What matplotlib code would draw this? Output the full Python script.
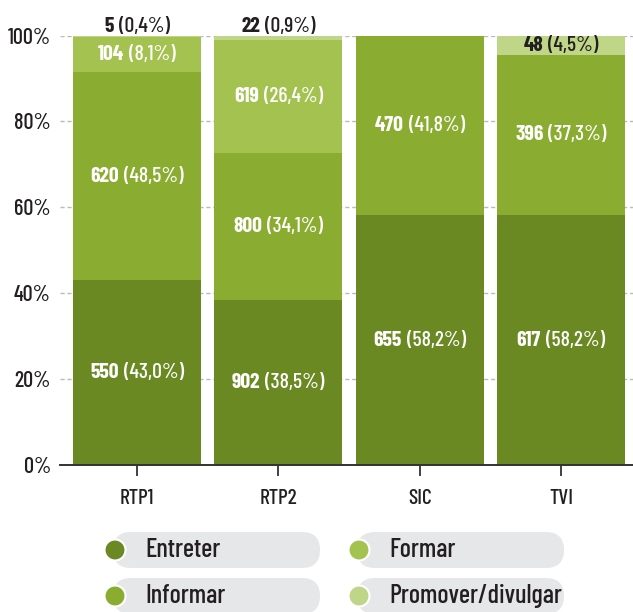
import matplotlib
matplotlib.use('Agg')
import matplotlib.pyplot as plt
from matplotlib.patches import FancyBboxPatch, Circle
from matplotlib.transforms import offset_copy

plt.rcParams['font.family'] = ['Barlow Condensed', 'DejaVu Sans']
plt.rcParams['font.weight'] = 'medium'

### data
channels = ['RTP1', 'RTP2', 'SIC', 'TVI']
categories = ['Entreter', 'Informar', 'Formar', 'Promover/divulgar']

n_entreter = [550, 902, 655, 617]
n_informar = [620, 800, 470, 396]
n_formar = [104, 619, 0, 0]
n_promover = [5, 22, 0, 48]

pct_entreter = [43.0, 38.5, 58.2, 58.2]
pct_informar = [48.5, 34.1, 41.8, 37.3]
pct_formar = [8.1, 26.4, 0.0, 0.0]
pct_promover = [0.4, 0.9, 0.0, 4.5]

counts = [n_entreter, n_informar, n_formar, n_promover]
pcts = [pct_entreter, pct_informar, pct_formar, pct_promover]

colors = ['#6b8923', '#8aac30', '#a4c24f', '#bfd587']
label_colors = ['white', 'white', 'white', '#231f20']
text_dark = '#231f20'

W, H = 633, 612
fig = plt.figure(figsize=(W / 100, H / 100), dpi=100)
ax = fig.add_axes([60 / W, (H - 465) / H, (W - 60) / W, (465 - 35.5) / H])

x = range(len(channels))
width = 0.906
bottoms = [0.0] * len(channels)
segments = []
for k in range(len(categories)):
    ax.bar(x, pcts[k], width, bottom=bottoms, color=colors[k], zorder=2)
    for i in x:
        segments.append((i, k, bottoms[i], pcts[k][i], counts[k][i]))
    bottoms = [b + p for b, p in zip(bottoms, pcts[k])]

ax.set_xlim(-0.545, 3.51)
ax.set_ylim(0, 100)
ax.set_yticks([0, 20, 40, 60, 80, 100])
ax.set_yticklabels(['%d%%' % v for v in [0, 20, 40, 60, 80, 100]])
ax.set_xticks(list(x))
ax.set_xticklabels(channels)
ax.yaxis.grid(True, linestyle=(0, (3, 2)), color='#bbbbbb', lw=1, zorder=0)
ax.set_axisbelow(True)
for s in ['top', 'right', 'left']:
    ax.spines[s].set_visible(False)
ax.spines['bottom'].set_color('#333333')
ax.spines['bottom'].set_linewidth(1.4)
ax.tick_params(axis='y', length=0, pad=6.5, labelsize=16, labelcolor=text_dark)
ax.tick_params(axis='x', length=8, width=1.3, color='#333333', pad=9,
               labelsize=15.5, labelcolor=text_dark)

# segment labels: bold count + regular percentage
renderer = fig.canvas.get_renderer()
gap = 5.0  # pixels between count and percentage
for i, k, b, p, n in segments:
    if p <= 0:
        continue
    if p < 2:
        y = 100
        va = 'bottom'
        col = text_dark
    else:
        y = b + p / 2
        va = 'center'
        col = label_colors[k]
    t1 = ax.text(i, y, '%d' % n, ha='right', va=va, fontsize=15.5,
                 fontweight='bold', color=col, zorder=5, clip_on=False)
    t2 = ax.text(i, y, ('(%.1f%%)' % p).replace('.', ','), ha='left', va=va,
                 fontsize=15.5, color=col, zorder=5, clip_on=False)
    w1 = t1.get_window_extent(renderer).width
    w2 = t2.get_window_extent(renderer).width
    shift = (w1 - w2 - gap) / 2
    t1.set_transform(offset_copy(ax.transData, fig=fig, x=shift, y=0, units='dots'))
    t2.set_transform(offset_copy(ax.transData, fig=fig, x=shift + gap, y=0, units='dots'))

# legend drawn in pixel space
lax = fig.add_axes([0, 0, 1, 1], zorder=-1)
lax.set_xlim(0, W)
lax.set_ylim(H, 0)
lax.axis('off')
leg_cols = [113, 357]
leg_rows = [550, 596]
leg_order = [0, 2, 1, 3]
for j, k in enumerate(leg_order):
    cx = leg_cols[j % 2]
    cy = leg_rows[j // 2]
    pill = FancyBboxPatch((cx, cy - 18), 207, 36,
                          boxstyle='round,pad=0,rounding_size=18',
                          fc='#e6e7e9', ec='none')
    lax.add_patch(pill)
    lax.add_patch(Circle((cx + 2, cy), 10.5, fc=colors[k], ec='white', lw=1.5))
    lax.text(cx + 32, cy, categories[k], ha='left', va='center',
             fontsize=19, color=text_dark)

fig.savefig('out.png', dpi=100)
